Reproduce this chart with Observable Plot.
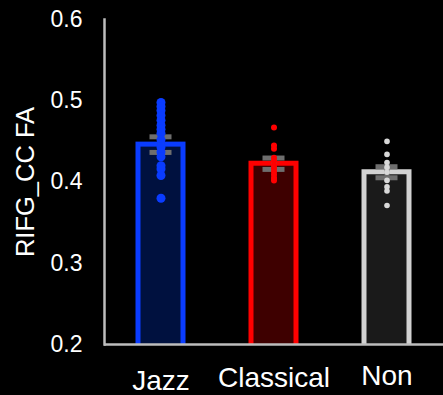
<!DOCTYPE html>
<html><head><meta charset="utf-8">
<script src="https://cdn.jsdelivr.net/npm/d3@7"></script>
<script src="https://cdn.jsdelivr.net/npm/@observablehq/plot@0.6"></script>
<style>html,body{margin:0;padding:0;background:#000;overflow:hidden;}</style>
</head><body><div id="chart"></div>
<script>
const categories = ["Jazz", "Classical", "Non"];
const means = [0.446, 0.4225, 0.412];
const errors = [0.0096, 0.007, 0.0068];
const jazzPoints = [0.498, 0.493, 0.488, 0.482, 0.476, 0.470, 0.465, 0.460, 0.452, 0.443, 0.437, 0.431, 0.420, 0.416, 0.408, 0.380];
const classicalPoints = [0.467, 0.445, 0.441, 0.430, 0.426, 0.421, 0.417, 0.413, 0.409, 0.405, 0.402];
const nonPoints = [0.450, 0.434, 0.424, 0.418, 0.412, 0.402, 0.394, 0.389, 0.371];
const yTicks = [0.2, 0.3, 0.4, 0.5, 0.6];
const yLabel = "RIFG_CC FA";
const strokeColors = ["#0a3cff", "#ff0000", "#d2d2d2"];
const fillColors = ["#00113f", "#3e0000", "#1a1a1a"];
const dotColors = ["#0a3cff", "#ff0000", "#d8d8d8"];
const dotRadii = [4.5, 3, 2.8];
const labelPads = [26, 23, 21];

const summary = categories.map((c, i) => ({cat: c, mean: means[i], se: errors[i], stroke: strokeColors[i], fill: fillColors[i]}));
const pointSets = [jazzPoints, classicalPoints, nonPoints];

const font = "'Liberation Sans', Arial, Helvetica, sans-serif";

const chart = Plot.plot({
  width: 443,
  height: 395,
  marginLeft: 104,
  marginRight: 0,
  marginTop: 19,
  marginBottom: 51,
  style: {background: "#000", color: "#fff", fontFamily: font},
  x: {domain: categories, paddingInner: 0.6, paddingOuter: 0.3},
  y: {domain: [0.2, 0.6]},
  marks: [
    Plot.barY(summary, {x: "cat", y1: 0.195, y2: "mean", fill: d => d.fill, stroke: d => d.stroke, strokeWidth: 5, clip: true}),
    Plot.ruleX(summary, {x: "cat", y1: d => d.mean - d.se, y2: d => d.mean + d.se, stroke: "#6e6e6e", strokeWidth: 5}),
    Plot.tickY(summary, {x: "cat", y: d => d.mean - d.se, stroke: "#6e6e6e", strokeWidth: 5, inset: 11.5}),
    Plot.tickY(summary, {x: "cat", y: d => d.mean + d.se, stroke: "#6e6e6e", strokeWidth: 5, inset: 11.5}),
    ...pointSets.map((pts, i) => Plot.dot(pts, {x: () => categories[i], y: d => d, r: dotRadii[i], fill: dotColors[i], stroke: "none"})),
    Plot.ruleY([0.2], {stroke: "#bdbdbd", strokeWidth: 2.5}),
    Plot.frame({anchor: "left", stroke: "#bdbdbd", strokeWidth: 2.5}),
    Plot.axisY({ticks: yTicks, tickSize: 0, tickPadding: 22, tickFormat: d3.format(".1f"), fontSize: 23, fill: "#fff", label: null}),
    Plot.text([yLabel], {text: d => d, frameAnchor: "left", textAnchor: "middle", rotate: -90, dx: -79, fontSize: 25.5, fill: "#fff"}),
    ...categories.map((c, i) => Plot.axisX({ticks: [c], tickSize: 0, tickPadding: labelPads[i], fontSize: 28, fill: "#fff", label: null}))
  ]
});
document.getElementById("chart").appendChild(chart);
</script>
</body></html>
